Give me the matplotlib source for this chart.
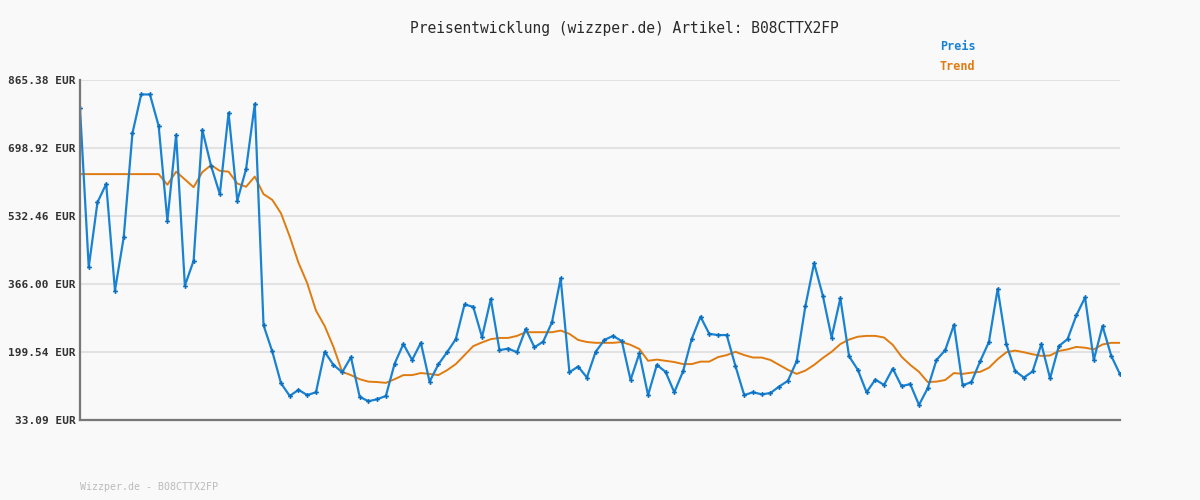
import matplotlib
matplotlib.use("Agg")
import matplotlib.pyplot as plt
import numpy as np

# Preis- und Trendwerte (EUR)
preis = [796, 407, 566, 611, 350, 480, 735, 830, 830, 753,
         521, 731, 362, 423, 743, 655, 586, 785, 570, 647,
         807, 265, 201, 123, 92, 107, 94, 101, 200, 168,
         150, 187, 90, 79, 84, 92, 171, 219, 180, 222,
         127, 169, 199, 231, 316, 310, 236, 329, 204, 208,
         199, 256, 211, 225, 272, 380, 150, 164, 137, 200,
         229, 239, 226, 131, 196, 94, 168, 151, 101, 152,
         232, 286, 244, 241, 241, 165, 94, 101, 96, 99,
         115, 129, 177, 312, 417, 337, 235, 331, 189, 156,
         101, 132, 119, 159, 116, 121, 70, 111, 180, 204,
         266, 118, 126, 177, 224, 354, 218, 153, 137, 152,
         219, 135, 214, 231, 289, 333, 180, 263, 190, 145]

trend = [635, 635, 635, 635, 635, 635, 635, 635, 635, 635,
         609, 641, 622, 603, 640, 657, 643, 641, 612, 604,
         629, 586, 572, 539, 482, 418, 368, 301, 263, 212,
         151, 143, 133, 127, 126, 124, 133, 143, 143, 148,
         146, 143, 155, 170, 192, 214, 223, 231, 234, 234,
         239, 248, 248, 248, 248, 252, 244, 229, 224, 222,
         222, 222, 224, 217, 207, 178, 181, 178, 175, 170,
         170, 176, 176, 187, 192, 200, 192, 186, 186, 180,
         168, 156, 146, 154, 168, 185, 200, 219, 230, 237,
         239, 239, 235, 217, 188, 168, 151, 126, 127, 131,
         148, 146, 149, 151, 161, 182, 199, 203, 199, 194,
         190, 191, 202, 206, 212, 210, 206, 218, 222, 222]

y_ticks = [33.09, 199.54, 366.00, 532.46, 698.92, 865.38]

BG = '#f9f9f9'
BLUE = '#1a82d2'
ORANGE = '#e07b10'

fig = plt.figure(figsize=(12, 5), dpi=100, facecolor=BG)
ax = fig.add_axes([80 / 1200, 80 / 500, 1040 / 1200, 340 / 500])
ax.set_facecolor(BG)

x = np.arange(len(preis))
ax.plot(x, trend, color=ORANGE, linewidth=1.4, zorder=3)
ax.plot(x, preis, color=BLUE, linewidth=1.6, marker='P', markersize=3.5,
        markeredgewidth=0, markerfacecolor='#0b6fbf', zorder=4)

ax.set_xlim(0, len(preis) - 1)
ax.set_ylim(y_ticks[0], y_ticks[-1])
ax.set_xticks([])
ax.set_yticks(y_ticks)
ax.set_yticklabels([f'{v:.2f} EUR' for v in y_ticks], family='DejaVu Sans Mono',
                   fontsize=8, fontweight='bold', color='#333333')
ax.tick_params(axis='y', length=0, pad=3)
ax.grid(axis='y', color='#e2e2e2', linewidth=1.5, zorder=0)

for s in ['top', 'right']:
    ax.spines[s].set_visible(False)
for s in ['left', 'bottom']:
    ax.spines[s].set_color('#777777')
    ax.spines[s].set_linewidth(1.6)
    ax.spines[s].set_zorder(5)

fig.text(624 / 1200, 1 - 28 / 500, 'Preisentwicklung (wizzper.de) Artikel: B08CTTX2FP',
         family='DejaVu Sans Mono', fontsize=10.5, color='#2a2a2a', ha='center', va='center')
fig.text(940 / 1200, 1 - 47 / 500, 'Preis', family='DejaVu Sans Mono', fontsize=8.5,
         fontweight='bold', color=BLUE, ha='left', va='center')
fig.text(940 / 1200, 1 - 67 / 500, 'Trend', family='DejaVu Sans Mono', fontsize=8.5,
         fontweight='bold', color=ORANGE, ha='left', va='center')
fig.text(80 / 1200, 1 - 487 / 500, 'Wizzper.de - B08CTTX2FP', family='DejaVu Sans Mono',
         fontsize=7.2, color='#bbbbbb', ha='left', va='center')

plt.savefig('out.png', dpi=100, facecolor=BG)
plt.close()
